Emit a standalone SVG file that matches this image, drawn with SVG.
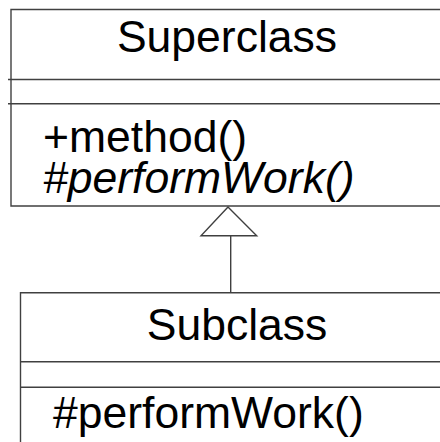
<svg xmlns="http://www.w3.org/2000/svg" width="440" height="442" viewBox="0 0 440 442">
  <style>
    .edge { fill: none; stroke: #404040; stroke-width: 1.4; }
    .label { font-family: "Liberation Sans", Arial, sans-serif; font-size: 44.5px; fill: #000; }
    .title { text-anchor: middle; }
    .abstract { font-style: italic; }
  </style>
  <rect width="440" height="442" fill="#fff"/>

  <!-- Superclass -->
  <g id="superclass">
    <path class="edge" d="M 460 9.5 H 11 V 206 H 460"/>
    <path class="edge" d="M 8 79.5 H 460 M 8 103.7 H 460"/>
    <text class="label title" x="227" y="52">Superclass</text>
    <text class="label" x="43" y="152">+method()</text>
    <text class="label abstract" x="43" y="193">#performWork()</text>
  </g>

  <!-- Subclass -->
  <g id="subclass">
    <path class="edge" d="M 460 292.7 H 20.5 V 450"/>
    <path class="edge" d="M 20.5 361.7 H 460 M 20.5 387.3 H 460"/>
    <text class="label title" x="237" y="340">Subclass</text>
    <text class="label" x="53" y="428">#performWork()</text>
  </g>

  <!-- Generalization -->
  <g id="connectors">
    <line class="edge" x1="230.7" y1="235.7" x2="230.7" y2="292.7"/>
    <polygon class="edge" points="228,207 201,235.7 256.7,235.7"/>
  </g>
</svg>
